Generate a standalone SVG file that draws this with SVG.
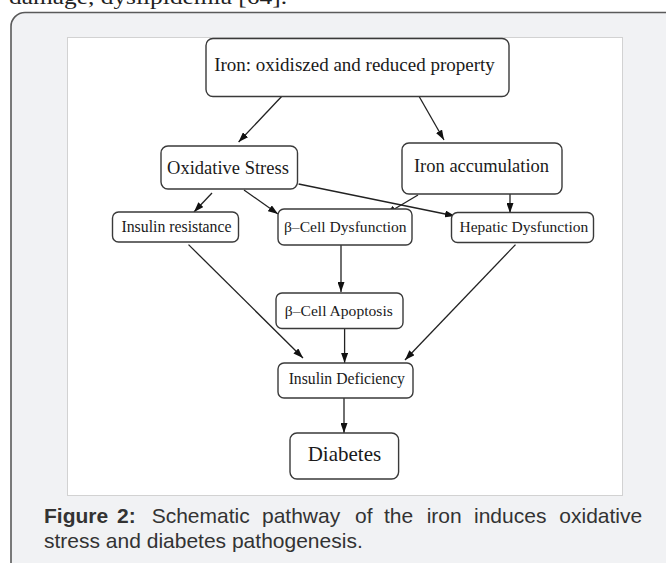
<svg xmlns="http://www.w3.org/2000/svg" width="666" height="563" viewBox="0 0 666 563">
<style>
.box{fill:#fff;stroke:#3a3a3a;stroke-width:1.4}
.t{font-family:"Liberation Serif","Times New Roman",serif;fill:#1a1a1a;text-anchor:middle}
.c{fill:none;stroke:#222;stroke-width:1.3;marker-end:url(#ah)}
.cap{font-family:"Liberation Sans",Arial,sans-serif;font-size:21px;fill:#333}
</style>
<defs>
<marker id="ah" markerUnits="userSpaceOnUse" markerWidth="10" markerHeight="7" refX="10" refY="3.5" orient="auto">
<path d="M0,0 L10,3.5 L0,7 z" fill="#111"/>
</marker>
</defs>
<rect width="666" height="563" fill="#fff"/>
<text x="9" y="4" font-family="'Liberation Serif','Times New Roman',serif" font-size="21" fill="#222" textLength="278" lengthAdjust="spacingAndGlyphs">damage, dyslipidemia [64].</text>
<rect x="11" y="12.5" width="700" height="600" rx="14" fill="#f1f2f4" stroke="#5a5a5a" stroke-width="1.6"/>
<rect x="67.5" y="37.5" width="555" height="458" fill="#fff" stroke="#d2d2d2" stroke-width="1"/>

<g id="connectors">
<line class="c" x1="283" y1="95" x2="238.6" y2="142"/>
<line class="c" x1="416" y1="91" x2="444" y2="140"/>
<line class="c" x1="212" y1="193" x2="194" y2="212"/>
<line class="c" x1="244" y1="190" x2="278" y2="214"/>
<line class="c" x1="298.6" y1="184" x2="455" y2="216"/>
<line class="c" x1="418" y1="195" x2="386" y2="214"/>
<line class="c" x1="510" y1="194" x2="510" y2="213"/>
<line class="c" x1="341" y1="245" x2="341" y2="292"/>
<line class="c" x1="188.5" y1="244.6" x2="303" y2="358"/>
<line class="c" x1="515.5" y1="244.6" x2="405" y2="360"/>
<line class="c" x1="344.6" y1="328.5" x2="344.6" y2="363"/>
<line class="c" x1="344" y1="398" x2="344" y2="433"/>
</g>

<g id="iron">
<rect class="box" x="206" y="38.5" width="303" height="58" rx="7"/>
<text class="t" x="354.5" y="70.7" font-size="19">Iron: oxidiszed and reduced property</text>
</g>
<g id="oxidative-stress">
<rect class="box" x="161" y="146" width="136.5" height="43" rx="7"/>
<text class="t" x="228" y="173.5" font-size="18.5">Oxidative Stress</text>
</g>
<g id="iron-accumulation">
<rect class="box" x="402" y="143" width="160" height="51" rx="7"/>
<text class="t" x="481.5" y="172" font-size="18.5">Iron accumulation</text>
</g>
<g id="insulin-resistance">
<rect class="box" x="112.5" y="212" width="126" height="30" rx="6"/>
<text class="t" x="176.5" y="232.4" font-size="15.8">Insulin resistance</text>
</g>
<g id="beta-dysfunction">
<rect class="box" x="278" y="209" width="134" height="36" rx="6"/>
<text class="t" x="345.3" y="232.4" font-size="15.6">β–Cell Dysfunction</text>
</g>
<g id="hepatic-dysfunction">
<rect class="box" x="451.5" y="212.5" width="142" height="30" rx="6"/>
<text class="t" x="523.9" y="232.4" font-size="15.5">Hepatic Dysfunction</text>
</g>
<g id="beta-apoptosis">
<rect class="box" x="276" y="293" width="127" height="35.5" rx="6"/>
<text class="t" x="338.8" y="316" font-size="15.6">β–Cell Apoptosis</text>
</g>
<g id="insulin-deficiency">
<rect class="box" x="278" y="363" width="135" height="35" rx="6"/>
<text class="t" x="346.8" y="384" font-size="15.7">Insulin Deficiency</text>
</g>
<g id="diabetes">
<rect class="box" x="290" y="433" width="108.6" height="46" rx="7"/>
<text class="t" x="344.4" y="461" font-size="21">Diabetes</text>
</g>

<text class="cap" y="523"><tspan x="44" font-weight="bold">Figure</tspan><tspan x="117" font-weight="bold">2:</tspan><tspan x="151.7">Schematic</tspan><tspan x="262">pathway</tspan><tspan x="355">of</tspan><tspan x="384">the</tspan><tspan x="426.7">iron</tspan><tspan x="474">induces</tspan><tspan x="559.3">oxidative</tspan></text>
<text class="cap" x="44" y="548">stress and diabetes pathogenesis.</text>
</svg>
